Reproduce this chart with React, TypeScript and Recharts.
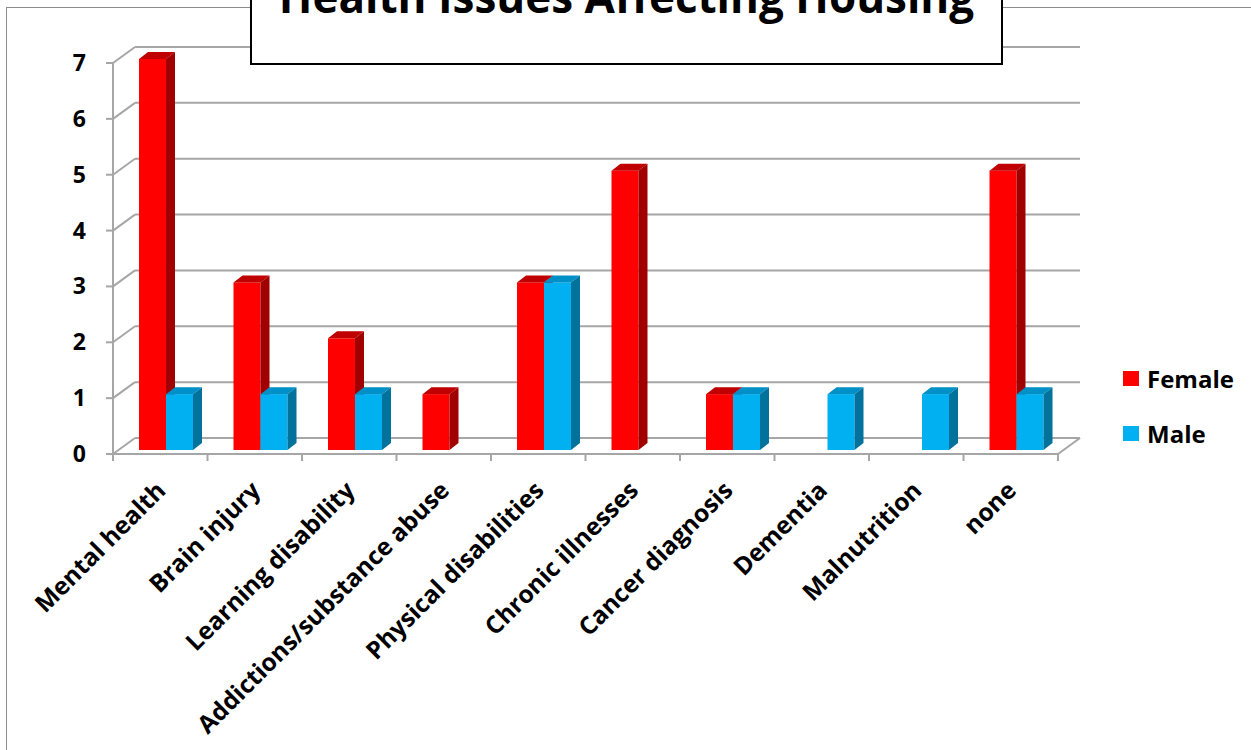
import { BarChart, Bar, XAxis, YAxis, CartesianGrid } from 'recharts';

const categories = [
    'Mental health',
    'Brain injury',
    'Learning disability',
    'Addictions/substance abuse',
    'Physical disabilities',
    'Chronic illnesses',
    'Cancer diagnosis',
    'Dementia',
    'Malnutrition',
    'none',
];
const femaleValues = [7, 3, 2, 1, 3, 5, 1, 0, 0, 5];
const maleValues = [1, 1, 1, 0, 3, 0, 1, 1, 1, 1];
const yTicks = [0, 1, 2, 3, 4, 5, 6, 7];

const series = [
    { key: 'female', name: 'Female', front: '#ff0000', top: '#c00000', side: '#a00000' },
    { key: 'male', name: 'Male', front: '#00b0f0', top: '#0090c8', side: '#00729c' },
];

const data = categories.map((name, i) => ({ name, female: femaleValues[i], male: maleValues[i] }));

const FONT = '"Open Sans", sans-serif';
const GRID = '#a6a6a6';
// depth of the back wall and of each bar
const WALL_DX = 22;
const WALL_DY = 16;
const BAR_DX = 9;
const BAR_DY = 7;

const makeBar = (s: typeof series[number]) => (props: any) => {
    const { x, y, width, height } = props;
    if (!height || height <= 0) return <g />;
    const bx = x + 6;
    const by = y - 4;
    return (
        <g>
            <rect x={bx} y={by} width={width} height={height} fill={s.front} />
            <polygon
                points={`${bx},${by} ${bx + BAR_DX},${by - BAR_DY} ${bx + width + BAR_DX},${by - BAR_DY} ${bx + width},${by}`}
                fill={s.top}
            />
            <polygon
                points={`${bx + width},${by} ${bx + width + BAR_DX},${by - BAR_DY} ${bx + width + BAR_DX},${by + height - BAR_DY} ${bx + width},${by + height}`}
                fill={s.side}
            />
        </g>
    );
};

const gridLine = (props: any) => {
    const { x1, y1, x2, y, height, index } = props;
    const isFloor = Math.abs(y1 - (y + height)) < 1;
    return (
        <g key={`g-${index}`}>
            <line x1={x1} y1={y1} x2={x1 + WALL_DX} y2={y1 - WALL_DY} stroke={GRID} strokeWidth={2} />
            <line x1={x1 + WALL_DX} y1={y1 - WALL_DY} x2={x2 + WALL_DX} y2={y1 - WALL_DY} stroke={GRID} strokeWidth={2} />
            {isFloor && <line x1={x2} y1={y1} x2={x2 + WALL_DX} y2={y1 - WALL_DY} stroke={GRID} strokeWidth={2} />}
        </g>
    );
};

const YTick = (props: any) => {
    const { x, y, payload } = props;
    return (
        <text x={x} y={y} dy={8} textAnchor="end" fontFamily={FONT} fontWeight={700} fontSize={23} fill="#000">
            {payload.value}
        </text>
    );
};

const XTick = (props: any) => {
    const { x, y, payload, index } = props;
    const half = payload.offset || 47.25;
    const last = index === categories.length - 1;
    const ax = x + 7;
    const ay = y + 38;
    return (
        <g>
            <line x1={x - half} y1={y} x2={x - half} y2={y + 7} stroke={GRID} strokeWidth={2} />
            {last && <line x1={x + half} y1={y} x2={x + half} y2={y + 7} stroke={GRID} strokeWidth={2} />}
            <text
                x={ax}
                y={ay}
                textAnchor="end"
                transform={`rotate(-45 ${ax} ${ay})`}
                fontFamily={FONT}
                fontWeight={700}
                fontSize={24.5}
                fill="#000"
            >
                {payload.value}
            </text>
        </g>
    );
};

export default function App() {
    return (
        <div style={{ position: 'absolute', left: 0, top: 0, width: 1251, height: 750, overflow: 'hidden', background: '#fff' }}>
            <div
                style={{
                    position: 'absolute',
                    left: 6,
                    top: 7,
                    width: 1400,
                    height: 900,
                    borderLeft: '1px solid #8c8c8c',
                    borderTop: '1px solid #8c8c8c',
                }}
            />
            <div style={{ position: 'absolute', left: 0, top: 0 }}>
                <BarChart
                    width={1251}
                    height={750}
                    data={data}
                    margin={{ top: 63, right: 193, bottom: 96, left: 53 }}
                    barGap={0}
                    barSize={27}
                >
                    <CartesianGrid horizontal={gridLine} vertical={false} />
                    <XAxis
                        dataKey="name"
                        height={200}
                        interval={0}
                        tickLine={false}
                        tickSize={0}
                        tickMargin={0}
                        axisLine={{ stroke: GRID, strokeWidth: 2 }}
                        tick={<XTick />}
                    />
                    <YAxis
                        width={60}
                        domain={[0, 7]}
                        ticks={yTicks}
                        tickSize={7}
                        tickMargin={20}
                        tickLine={{ stroke: GRID, strokeWidth: 2 }}
                        axisLine={{ stroke: GRID, strokeWidth: 2 }}
                        tick={<YTick />}
                    />
                    {series.map((s) => (
                        <Bar key={s.key} dataKey={s.key} name={s.name} fill={s.front} shape={makeBar(s)} isAnimationActive={false} />
                    ))}
                </BarChart>
            </div>
            <div
                style={{
                    position: 'absolute',
                    left: 250,
                    top: -30,
                    width: 749,
                    height: 91,
                    border: '2px solid #000',
                    background: '#fff',
                    overflow: 'hidden',
                }}
            >
                <div
                    style={{
                        position: 'absolute',
                        left: 0,
                        right: 0,
                        top: -6,
                        textAlign: 'center',
                        fontFamily: FONT,
                        fontWeight: 700,
                        fontSize: 44,
                        lineHeight: '60px',
                        color: '#000',
                        whiteSpace: 'nowrap',
                    }}
                >
                    Health Issues Affecting Housing
                </div>
            </div>
            {series.map((s, i) => (
                <div key={s.key} style={{ position: 'absolute', left: 1123, top: 364 + i * 55, height: 28, display: 'flex', alignItems: 'center' }}>
                    <div style={{ width: 16, height: 15, background: s.front, marginRight: 8 }} />
                    <span style={{ fontFamily: FONT, fontWeight: 700, fontSize: 24, color: '#000' }}>{s.name}</span>
                </div>
            ))}
        </div>
    );
}
